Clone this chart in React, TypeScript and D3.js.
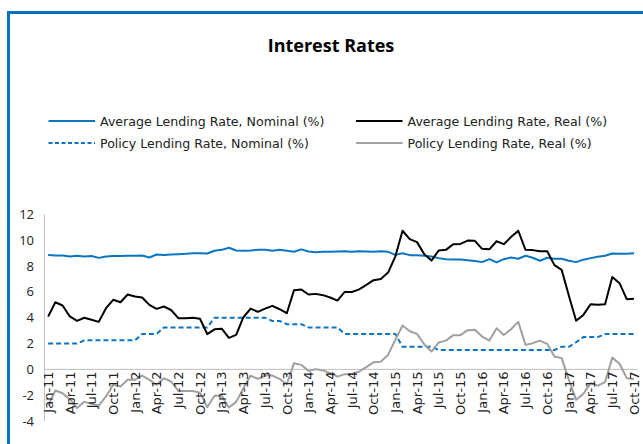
import React from "react";
import * as d3 from "d3";

const months: string[] = (() => {
  const m = ["Jan", "Feb", "Mar", "Apr", "May", "Jun", "Jul", "Aug", "Sep", "Oct", "Nov", "Dec"];
  const out: string[] = [];
  for (let y = 11; y <= 17; y++) for (let i = 0; i < 12; i++) out.push(`${m[i]}-${y}`);
  return out.slice(0, 82);
})();

const alrNominal = [
  8.87, 8.82, 8.82, 8.75, 8.8, 8.75, 8.78, 8.64, 8.75, 8.78, 8.78, 8.8,
  8.8, 8.82, 8.67, 8.9, 8.87, 8.9, 8.92, 8.95, 9.0, 9.0,
  8.98, 9.19, 9.26, 9.42, 9.21, 9.19, 9.21, 9.26, 9.26, 9.19,
  9.26, 9.19, 9.11, 9.3, 9.13, 9.08, 9.11, 9.11, 9.13, 9.16,
  9.11, 9.16, 9.13, 9.11, 9.16, 9.11, 8.87, 9.0, 8.85, 8.85,
  8.8, 8.75, 8.62, 8.54, 8.52, 8.52, 8.46, 8.39, 8.31, 8.54,
  8.29, 8.54, 8.67, 8.57, 8.8, 8.65, 8.42, 8.65, 8.57, 8.57,
  8.42, 8.31, 8.5, 8.62, 8.72, 8.8, 8.98, 8.95, 8.95, 9.0,
];

const alrReal = [
  4.09, 5.2, 4.95, 4.1, 3.76, 4.0, 3.84, 3.68, 4.74, 5.39, 5.2, 5.8,
  5.64, 5.57, 5.0, 4.69, 4.87, 4.6, 3.97, 3.97, 4.0, 3.92,
  2.73, 3.1, 3.15, 2.44, 2.67, 4.04, 4.71, 4.46, 4.71, 4.92,
  4.66, 4.35, 6.14, 6.19, 5.8, 5.85, 5.75, 5.57, 5.33, 6.0,
  6.0, 6.2, 6.55, 6.91, 7.01, 7.5, 8.74, 10.74, 10.09, 9.86,
  8.93, 8.43, 9.21, 9.26, 9.7, 9.72, 9.98, 9.96, 9.34, 9.3,
  9.93, 9.7, 10.25, 10.74, 9.26, 9.24, 9.16, 9.16, 8.08, 7.71,
  5.7, 3.76, 4.22, 5.05, 5.0, 5.05, 7.15, 6.68, 5.44, 5.48,
];

const plrNominal = [
  2.0, 2.0, 2.0, 2.0, 2.0, 2.25, 2.25, 2.25, 2.25, 2.25, 2.25, 2.25,
  2.25, 2.75, 2.75, 2.75, 3.25, 3.25, 3.25, 3.25, 3.25, 3.25,
  3.25, 4.0, 4.0, 4.0, 4.0, 4.0, 4.0, 4.0, 4.0, 3.75,
  3.75, 3.5, 3.5, 3.5, 3.25, 3.25, 3.25, 3.25, 3.25, 2.75,
  2.75, 2.75, 2.75, 2.75, 2.75, 2.75, 2.75, 1.75, 1.75, 1.75,
  1.75, 1.75, 1.5, 1.5, 1.5, 1.5, 1.5, 1.5, 1.5, 1.5,
  1.5, 1.5, 1.5, 1.5, 1.5, 1.5, 1.5, 1.5, 1.5, 1.75,
  1.75, 2.1, 2.5, 2.5, 2.5, 2.75, 2.75, 2.75, 2.75, 2.75,
];

const plrReal = [
  -2.8, -1.64, -1.85, -2.31, -3.0, -2.5, -2.67, -2.8, -2.1, -1.2, -1.33, -0.81,
  -0.81, -0.48, -0.81, -1.2, -0.68, -0.94, -1.67, -1.67, -1.67, -1.8,
  -2.93, -2.05, -2.05, -2.96, -2.52, -1.46, -0.48, -0.74, -0.48, -0.48,
  -0.74, -1.15, 0.48, 0.35, -0.12, 0.02, -0.08, -0.3, -0.56, -0.37,
  -0.35, -0.17, 0.17, 0.55, 0.6, 1.12, 2.29, 3.4, 2.95, 2.75,
  1.95, 1.38, 2.08, 2.23, 2.65, 2.65, 3.04, 3.07, 2.54, 2.23,
  3.19, 2.67, 3.11, 3.68, 1.9, 2.03, 2.23, 1.98, 0.99, 0.87,
  -0.81, -2.36, -1.9, -1.07, -1.26, -0.99, 0.91, 0.43, -0.68, -0.75,
];

const yTicks = [-4, -2, 0, 2, 4, 6, 8, 10, 12];
const legendLabels = [
  "Average Lending Rate, Nominal (%)",
  "Average Lending Rate, Real (%)",
  "Policy Lending Rate, Nominal (%)",
  "Policy Lending Rate, Real (%)",
];

const BLUE = "#0a75c2";
const GRAY = "#a0a0a0";
const FONT = "'Open Sans', 'Noto Sans', sans-serif";
const LFONT = "'DejaVu Sans', sans-serif";

export default function App() {
  const W = 643, H = 444;
  const plotL = 44.5, plotR = 637.6, plotT = 214.5, plotB = 421;
  const x = d3.scalePoint<string>().domain(months).range([plotL, plotR]).padding(0.5);
  const y = d3.scaleLinear().domain([-4, 12]).range([plotB, plotT]);
  const line = d3.line<number>().x((_, i) => x(months[i]) as number).y((d) => y(d));

  const series = [
    { data: alrNominal, color: BLUE, dash: undefined },
    { data: plrNominal, color: BLUE, dash: "5,3" },
    { data: plrReal, color: GRAY, dash: undefined },
    { data: alrReal, color: "#000", dash: undefined },
  ];

  const legendItems = [
    { label: legendLabels[0], color: BLUE, dash: undefined, lx: 48.5, ly: 121 },
    { label: legendLabels[1], color: "#000", dash: undefined, lx: 356, ly: 121 },
    { label: legendLabels[2], color: BLUE, dash: "4,2.5", lx: 48.5, ly: 143 },
    { label: legendLabels[3], color: GRAY, dash: undefined, lx: 356, ly: 143 },
  ];

  const tickIdx = months.map((_, i) => i).filter((i) => i % 3 === 0);

  return (
    <svg width={W} height={H} style={{ position: "absolute", left: 0, top: 0 }}>
      <rect x={0} y={0} width={W} height={H} fill="#fff" />
      <rect x={8.5} y={12.5} width={700} height={500} fill="none" stroke="#0070c0" strokeWidth={3} />
      <text x={331} y={52} textAnchor="middle" fontFamily={FONT} fontWeight="bold" fontSize={18} fill="#000">
        Interest Rates
      </text>
      {legendItems.map((l, i) => (
        <g key={i}>
          <line x1={l.lx} x2={l.lx + 46.5} y1={l.ly} y2={l.ly} stroke={l.color} strokeWidth={2} strokeDasharray={l.dash} />
          <text x={l.lx + 51.5} y={l.ly + 4.5} fontFamily={LFONT} fontSize={12.6} fill="#222">
            {l.label}
          </text>
        </g>
      ))}
      <line x1={plotL} x2={plotL} y1={plotT} y2={plotB} stroke="#bfbfbf" strokeWidth={1} />
      <line x1={plotL} x2={plotR} y1={y(0)} y2={y(0)} stroke="#bfbfbf" strokeWidth={1} />
      {yTicks.map((t) => (
        <text key={t} x={34} y={y(t) + 4.5} textAnchor="end" fontFamily={FONT} fontSize={13} fill="#222">
          {t}
        </text>
      ))}
      {series.map((s, i) => (
        <path key={i} d={line(s.data) || ""} fill="none" stroke={s.color} strokeWidth={2} strokeDasharray={s.dash} strokeLinejoin="round" />
      ))}
      {tickIdx.map((i) => {
        const xx = x(months[i]) as number;
        return (
          <text
            key={i}
            transform={`translate(${xx + 4.7},${y(0) + 2}) rotate(-90)`}
            textAnchor="end"
            fontFamily={LFONT}
            fontSize={13}
            fill="#222"
          >
            {months[i]}
          </text>
        );
      })}
    </svg>
  );
}
